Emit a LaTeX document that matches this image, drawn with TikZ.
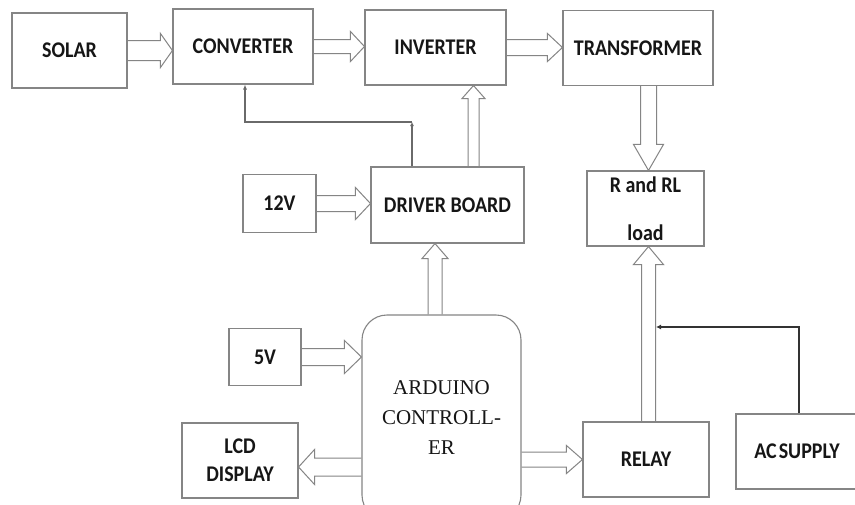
\documentclass[tikz,border=0pt]{standalone}
\usepackage{graphicx}
\usepackage{fontspec}
\setmainfont{Carlito}
\newfontfamily\serifont{Liberation Serif}
\usetikzlibrary{calc,arrows.meta}
\definecolor{edge}{HTML}{858585}
\definecolor{ink}{HTML}{161616}
\newcommand\vs[1]{\scalebox{1}[1.12]{#1}}
\tikzset{
  box/.style={draw=edge, line width=1.1pt, inner sep=0pt, text=ink,
    font=\fontsize{20}{24}\selectfont\bfseries, align=center},
  blockarrow/.style={draw=edge, line width=1pt, line join=miter},
  fbline/.style={draw=edge!80!black, line width=1.1pt},
  acline/.style={draw=black!80, line width=1.6pt},
}
\newcommand\barrow[5]{%
  \path #1 coordinate (bs) #2 coordinate (be);
  \path ($(be)!#5!(bs)$) coordinate (bh);
  \draw[blockarrow] ($(bs)!#3!90:(be)$) -- ($(bh)!#3!-90:(bs)$) -- ($(bh)!#4!-90:(bs)$)
     -- (be) -- ($(bh)!#4!90:(bs)$) -- ($(bh)!#3!90:(bs)$) -- ($(bs)!#3!-90:(be)$);
}
\begin{document}
\begin{tikzpicture}[x=1pt,y=-1pt]
\useasboundingbox (0,0) rectangle (855,504);
\clip (0,0) rectangle (855,504);
\fill[white] (0,0) rectangle (855,504);
% boxes
\node[box, minimum width=115pt, minimum height=75pt] (solar) at (69.5,50.5) {\vs{SOLAR}};
\node[box, minimum width=140pt, minimum height=75pt] (conv) at (243,46.5) {\vs{CONVERTER}};
\node[box, minimum width=141pt, minimum height=75pt] (inv) at (435.5,47.5) {\vs{INVERTER}};
\node[box, minimum width=150pt, minimum height=75pt] (trans) at (638,48) {\vs{TRANSFORMER}};
\node[box, minimum width=153pt, minimum height=76pt] (drv) at (447.5,205) {\vs{DRIVER BOARD}};
\node[box, minimum width=73pt, minimum height=58pt] (v12) at (279.5,203.5) {\vs{12V}};
\node[box, minimum width=117pt, minimum height=75pt] (load) at (645.5,208.5) {\vs{R and RL}\\[24pt]\vs{load}};
\node[box, minimum width=126pt, minimum height=75pt] (relay) at (646,459.5) {\vs{RELAY}};
\node[box, minimum width=122pt, minimum height=75pt] (ac) at (797,451.5) {\vs{AC\hspace{2pt}SUPPLY}};
\node[box, minimum width=72pt, minimum height=57pt] (v5) at (265,357) {\vs{5V}};
\node[box, minimum width=116pt, minimum height=75pt] (lcd) at (240,460.5) {\vs{LCD}\\[4pt]\vs{DISPLAY}};
\node[box, rounded corners=25pt, minimum width=159pt, minimum height=205pt,
      font=\serifont\fontsize{21}{30}\selectfont] (ard) at (441.5,417.5)
      {ARDUINO\\CONTROLL-\\ER};
% helper coordinates
\coordinate (xdi) at (473.5,0);
\coordinate (xld) at (648.5,0);
\coordinate (xad) at (435,0);
\coordinate (ylcd) at (0,467);
\coordinate (acc) at (799,327);
\coordinate (acend) at (656,327);
\coordinate (fb) at (412,122);
\coordinate (xfb) at (245,0);
% block arrows
\barrow{(solar.east)}{(conv.west |- solar.east)}{10pt}{17pt}{12pt}
\barrow{(conv.east)}{(inv.west |- conv.east)}{7pt}{15pt}{14pt}
\barrow{(inv.east)}{(trans.west |- inv.east)}{8pt}{14pt}{15pt}
\barrow{(v12.east)}{(drv.west |- v12.east)}{8pt}{16pt}{15pt}
\barrow{(drv.north -| xdi)}{(inv.south -| xdi)}{5.5pt}{11.5pt}{13pt}
\barrow{(trans.south -| xld)}{(load.north -| xld)}{8pt}{15pt}{26pt}
\barrow{(relay.north -| xld)}{(load.south -| xld)}{7pt}{15pt}{18pt}
\barrow{(ard.north -| xad)}{(drv.south -| xad)}{7pt}{13pt}{15pt}
\barrow{(v5.east)}{(ard.west |- v5.east)}{8.5pt}{16.5pt}{17pt}
\barrow{(ard.west |- ylcd)}{(lcd.east |- ylcd)}{9pt}{17.5pt}{16pt}
\barrow{(ard.east |- relay.west)}{(relay.west)}{7.5pt}{14pt}{16pt}
% thin lines
\draw[fbline, -{Latex[length=4pt,width=4pt]}] (drv.north -| fb) -- (fb);
\draw[fbline, -{Latex[length=5pt,width=4pt]}] (fb) -| (conv.south -| xfb);
\draw[acline, -{Latex[length=5pt,width=5pt]}] (ac.north -| acc) |- (acend);
\end{tikzpicture}
\end{document}
